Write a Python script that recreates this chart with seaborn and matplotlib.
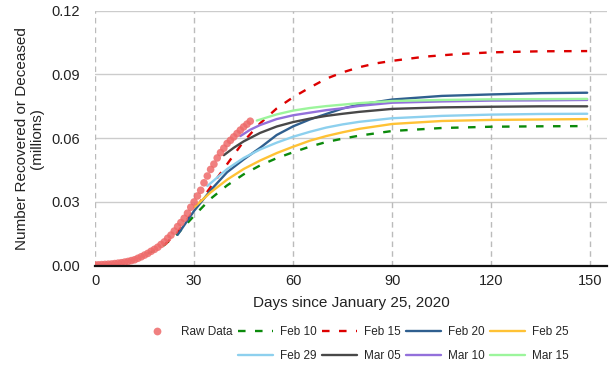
import matplotlib
matplotlib.use("Agg")
import matplotlib.pyplot as plt
from matplotlib.lines import Line2D
import seaborn as sns
import pandas as pd

# ---------------- data ----------------
raw_days = list(range(0, 48))
raw_vals = [0.0003, 0.0004, 0.0005, 0.0006, 0.0007, 0.0008, 0.0010, 0.0012, 0.0014, 0.0017,
            0.0020, 0.0024, 0.0028, 0.0035, 0.0042, 0.0050, 0.0058, 0.0068, 0.0077, 0.0087,
            0.0100, 0.0112, 0.0129, 0.0144, 0.0163, 0.0184, 0.0203, 0.0223, 0.0247, 0.0275,
            0.0300, 0.0328, 0.0355, 0.0390, 0.0422, 0.0453, 0.0478, 0.0507, 0.0532, 0.0553,
            0.0575, 0.0590, 0.0606, 0.0622, 0.0638, 0.0653, 0.0666, 0.0680]

feb10_days = [16, 20, 25, 30, 35, 40, 45, 50, 55, 60, 65, 70, 75, 80, 90, 105, 120, 135, 149]
feb10_vals = [0.0058, 0.0085, 0.0150, 0.0235, 0.0315, 0.0378, 0.0430, 0.0472, 0.0506, 0.0534,
              0.0560, 0.0582, 0.0598, 0.0612, 0.0634, 0.0648, 0.0654, 0.0656, 0.0657]

feb15_days = [21, 25, 30, 35, 40, 45, 50, 55, 60, 65, 70, 75, 80, 85, 90, 100, 110, 120, 135, 149]
feb15_vals = [0.0098, 0.0158, 0.0260, 0.0370, 0.0478, 0.0585, 0.0670, 0.0740, 0.0793, 0.0838,
              0.0880, 0.0910, 0.0934, 0.0952, 0.0964, 0.0984, 0.0996, 0.1004, 0.1009, 0.1010]

feb20_days = [25, 30, 35, 40, 45, 50, 55, 60, 65, 70, 75, 80, 90, 105, 120, 135, 149]
feb20_vals = [0.0145, 0.0258, 0.0355, 0.0440, 0.0500, 0.0555, 0.0615, 0.0656, 0.0688, 0.0714,
              0.0740, 0.0758, 0.0782, 0.0799, 0.0806, 0.0812, 0.0814]

feb25_days = [30, 35, 40, 45, 50, 55, 60, 65, 70, 75, 80, 90, 105, 120, 135, 149]
feb25_vals = [0.0275, 0.0345, 0.0405, 0.0455, 0.0495, 0.0530, 0.0560, 0.0588, 0.0610, 0.0628,
              0.0644, 0.0667, 0.0681, 0.0686, 0.0688, 0.0690]

feb29_days = [34, 40, 45, 50, 55, 60, 65, 70, 75, 80, 90, 105, 120, 135, 149]
feb29_vals = [0.0375, 0.0455, 0.0507, 0.0547, 0.0579, 0.0607, 0.0630, 0.0650, 0.0665, 0.0677,
              0.0694, 0.0705, 0.0711, 0.0714, 0.0715]

mar05_days = [39, 42, 45, 50, 55, 60, 65, 70, 75, 80, 90, 105, 120, 135, 149]
mar05_vals = [0.0520, 0.0555, 0.0585, 0.0625, 0.0655, 0.0676, 0.0692, 0.0705, 0.0715, 0.0724,
              0.0738, 0.0745, 0.0748, 0.0750, 0.0750]

mar10_days = [44, 47, 50, 55, 60, 65, 70, 75, 80, 90, 105, 120, 135, 149]
mar10_vals = [0.0610, 0.0640, 0.0662, 0.0690, 0.0708, 0.0720, 0.0732, 0.0741, 0.0752, 0.0767,
              0.0773, 0.0777, 0.0778, 0.0780]

mar15_days = [49, 55, 60, 65, 70, 75, 80, 90, 105, 120, 135, 149]
mar15_vals = [0.0683, 0.0712, 0.0730, 0.0742, 0.0751, 0.0758, 0.0765, 0.0775, 0.0780, 0.0783,
              0.0784, 0.0785]

series_names = ["Feb 10", "Feb 15", "Feb 20", "Feb 25", "Feb 29", "Mar 05", "Mar 10", "Mar 15"]
series_days = [feb10_days, feb15_days, feb20_days, feb25_days, feb29_days, mar05_days, mar10_days, mar15_days]
series_vals = [feb10_vals, feb15_vals, feb20_vals, feb25_vals, feb29_vals, mar05_vals, mar10_vals, mar15_vals]
series_colors = ["#0b8a0b", "#dd0000", "#2f5f8f", "#ffc235", "#8dd0ee", "#484848", "#9370db", "#9cf59c"]
series_dashed = [True, True, False, False, False, False, False, False]

x_ticks = [0, 30, 60, 90, 120, 150]
y_ticks = [0.00, 0.03, 0.06, 0.09, 0.12]

# ---------------- plot ----------------
sns.set_theme(style="white")
plt.rcParams["font.family"] = ["Liberation Sans", "DejaVu Sans"]

fig = plt.figure(figsize=(6.13, 3.68), dpi=100)
ax = fig.add_axes([95 / 613, 1 - 265.7 / 368, (607 - 95) / 613, (265.7 - 10.7) / 368])

raw_df = pd.DataFrame({"day": raw_days, "value": raw_vals})
sns.scatterplot(data=raw_df, x="day", y="value", ax=ax, color="#ee6a6a", alpha=0.85,
                s=30, edgecolor="none", zorder=5)

handles = [Line2D([], [], marker="o", linestyle="none", color="#ee6a6a", alpha=0.85,
                  markersize=5.6, markeredgewidth=0)]
labels = ["Raw Data"]

for name, d, v, c, dashed in zip(series_names, series_days, series_vals, series_colors, series_dashed):
    df = pd.DataFrame({"day": d, "value": v})
    ls = (0, (3.2, 4)) if dashed else "-"
    sns.lineplot(data=df, x="day", y="value", ax=ax, color=c, linewidth=1.7,
                 linestyle=ls, zorder=3)
    handles.append(Line2D([], [], color=c, linewidth=1.7, linestyle=ls))
    labels.append(name)

ax.set_xlim(0, 155)
ax.set_ylim(0, 0.12)
ax.set_xticks(x_ticks)
ax.set_yticks(y_ticks)
ax.set_yticklabels([f"{t:.2f}" for t in y_ticks])
ax.tick_params(axis="x", length=0, labelsize=10.5, colors="#222222", pad=6)
ax.tick_params(axis="y", length=0, labelsize=10.5, colors="#222222", pad=11)

ax.grid(False)
for t in y_ticks[1:]:
    ax.axhline(t, color="#cccccc", linewidth=1.0, zorder=0)
for t in x_ticks:
    ax.axvline(t, color="#bbbbbb", linewidth=1.0, linestyle=(0, (4, 3)), zorder=0)

for s in ["top", "right", "left"]:
    ax.spines[s].set_visible(False)
ax.spines["bottom"].set_color("#111111")
ax.spines["bottom"].set_linewidth(1.6)
ax.spines["bottom"].set_zorder(6)

ax.set_xlabel("Days since January 25, 2020", fontsize=11, color="#222222", labelpad=6)
ax.set_ylabel("Number Recovered or Deceased\n(millions)", fontsize=11, color="#222222",
              labelpad=5, linespacing=1.1)

# legend: blank entry to shift the second row one column right
blank = Line2D([], [], linestyle="none", marker=None)
order = [(handles[0], labels[0]), (blank, ""),
         (handles[1], labels[1]), (handles[5], labels[5]),
         (handles[2], labels[2]), (handles[6], labels[6]),
         (handles[3], labels[3]), (handles[7], labels[7]),
         (handles[4], labels[4]), (handles[8], labels[8])]
fig.legend([h for h, _ in order], [l for _, l in order], ncol=5, frameon=False,
           loc="center", bbox_to_anchor=(354 / 613, 1 - 344 / 368),
           fontsize=8.5, handlelength=2.9, handletextpad=0.6, columnspacing=0.5,
           labelspacing=1.05, borderpad=0.2)

fig.savefig("out.png", dpi=100)
